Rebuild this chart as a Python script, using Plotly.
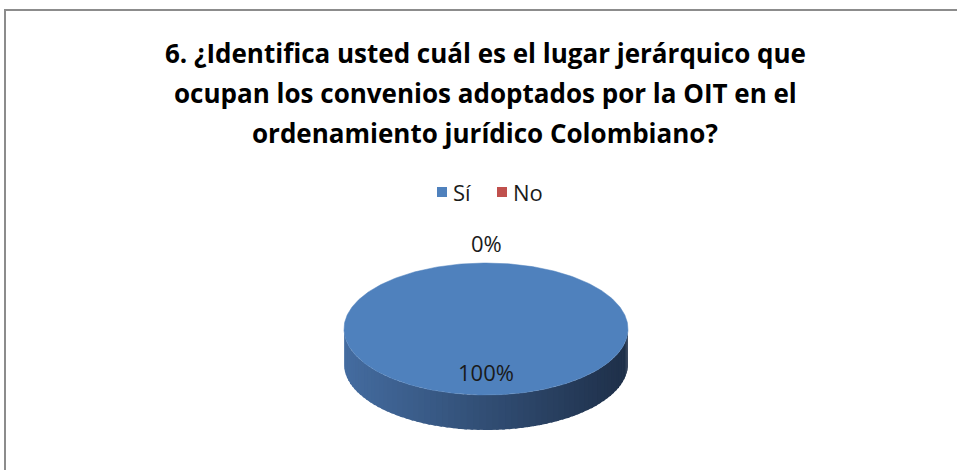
import numpy as np
import plotly.graph_objects as go

# ---- data ----
categories = ["Sí", "No"]
values = [100, 0]
pct_labels = ["100%", "0%"]
colors = ["#4F81BD", "#C0504D"]
title_lines = [
    "6. ¿Identifica usted cuál es el lugar jerárquico que",
    "ocupan los convenios adoptados por la OIT en el",
    "ordenamiento jurídico Colombiano?",
]

# ---- geometry of the 3-D pie (pixel space) ----
W, H = 957, 470
cx, cy = 486, 329      # centre of top face
a, b = 142, 66         # ellipse semi-axes
depth = 35

total = float(sum(values))
fig = go.Figure()

def ell(theta, dy=0.0):
    # theta measured clockwise from 12 o'clock
    return cx + a * np.sin(theta), cy - b * np.cos(theta) + dy

def lerp_col(c1, c2, t):
    return "rgb(%d,%d,%d)" % tuple(int(round(c1[i] + (c2[i] - c1[i]) * t)) for i in range(3))

side_left = (68, 108, 160)
side_right = (30, 47, 72)

start = 0.0
slices = []
for cat, v in zip(categories, values):
    ang = 2 * np.pi * v / total
    slices.append((cat, start, start + ang))
    start += ang

# side walls (front-visible part: theta between pi/2 and 3pi/2)
for (cat, t0, t1), col in zip(slices, colors):
    if t1 - t0 <= 0:
        continue
    lo, hi = max(t0, np.pi / 2), min(t1, 3 * np.pi / 2)
    if hi <= lo:
        continue
    nstrip = 70
    edges = np.linspace(lo, hi, nstrip + 1)
    for i in range(nstrip):
        e1 = min(edges[i + 1] + 0.02, hi)
        th = np.linspace(edges[i], e1, 8)
        xt, yt = ell(th)
        xb, yb = ell(th[::-1], depth)
        xm = np.mean(xt)
        t = (xm - (cx - a)) / (2 * a)
        fc = lerp_col(side_left, side_right, t)
        fig.add_trace(go.Scatter(
            x=np.concatenate([xt, xb]), y=np.concatenate([yt, yb]),
            fill="toself", fillcolor=fc, mode="lines",
            line=dict(width=0), hoverinfo="skip", showlegend=False))

# top faces
for (cat, t0, t1), col in zip(slices, colors):
    if t1 - t0 <= 0:
        continue
    th = np.linspace(t0, t1, 361)
    xs, ys = ell(th)
    if t1 - t0 < 2 * np.pi - 1e-9:
        xs = np.concatenate([[cx], xs, [cx]])
        ys = np.concatenate([[cy], ys, [cy]])
    fig.add_trace(go.Scatter(x=xs, y=ys, fill="toself", fillcolor=col, mode="lines",
                             line=dict(width=0.5, color=col), hoverinfo="skip",
                             showlegend=False))

# percentage labels
for (cat, t0, t1), lab in zip(slices, pct_labels):
    mid = (t0 + t1) / 2
    if t1 - t0 <= 0:
        lx, ly = cx + (a + 20) * np.sin(mid), cy - b * np.cos(mid) - 20
    else:
        lx, ly = cx, cy - b * 0.65 * np.cos(mid)
    fig.add_annotation(x=lx, y=ly, text=lab, showarrow=False,
                       font=dict(family="Open Sans", size=22, color="#1a1a1a"),
                       xanchor="center", yanchor="middle")

# title
for i, line in enumerate(title_lines):
    fig.add_annotation(x=485, y=53 + 40 * i, text="<b>%s</b>" % line, showarrow=False,
                       font=dict(family="Open Sans", size=26, color="#000000"),
                       xanchor="center", yanchor="middle")

# legend (manual)
leg_x = [442, 502]
leg_y = 192
fig.add_trace(go.Scatter(x=leg_x, y=[leg_y, leg_y], mode="markers",
                         marker=dict(symbol="square", size=10, color=colors),
                         hoverinfo="skip", showlegend=False))
for lx, cat in zip(leg_x, categories):
    fig.add_annotation(x=lx + 9, y=leg_y, text=cat, showarrow=False,
                       font=dict(family="Open Sans", size=22, color="#1a1a1a"),
                       xanchor="left", yanchor="middle")

# chart frame
fig.add_shape(type="rect", xref="x", yref="y", x0=5, y0=10, x1=W + 20, y1=H + 20,
              line=dict(color="#8c8c8c", width=2), layer="above")

fig.update_layout(
    width=W, height=H, margin=dict(l=0, r=0, t=0, b=0),
    paper_bgcolor="white", plot_bgcolor="white",
    xaxis=dict(range=[0, W], visible=False, fixedrange=True),
    yaxis=dict(range=[H, 0], visible=False, fixedrange=True),
    showlegend=False,
)

fig.write_html("out.html", config={"displayModeBar": False},
               post_script="document.body.style.margin='0';document.body.style.overflow='hidden';")
